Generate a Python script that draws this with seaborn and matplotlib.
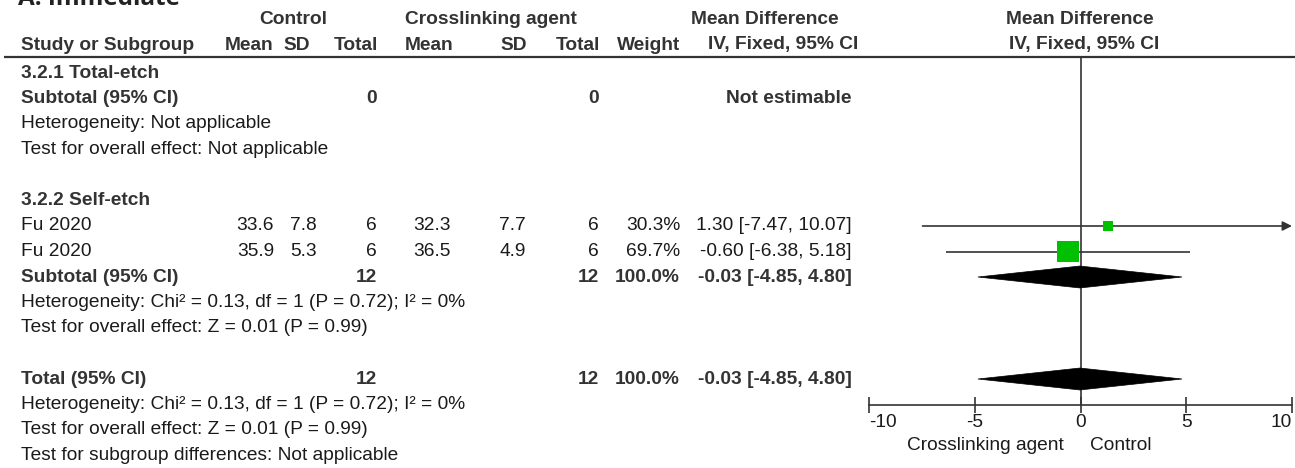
import numpy as np
import pandas as pd
import matplotlib
matplotlib.use("Agg")
import matplotlib.pyplot as plt
from matplotlib.patches import Polygon
import seaborn as sns

# ---- data -------------------------------------------------------------
study = ["Fu 2020", "Fu 2020"]
ctrl_mean = [33.6, 35.9]
ctrl_sd = [7.8, 5.3]
ctrl_n = [6, 6]
xl_mean = [32.3, 36.5]
xl_sd = [7.7, 4.9]
xl_n = [6, 6]
weight = [30.3, 69.7]
md = [1.30, -0.60]
ci_lo = [-7.47, -6.38]
ci_hi = [10.07, 5.18]

subtotal_md = [-0.03, -4.85, 4.80]   # estimate, lower, upper
total_md = [-0.03, -4.85, 4.80]
het_text = "Heterogeneity: Chi² = 0.13, df = 1 (P = 0.72); I² = 0%"
effect_text = "Test for overall effect: Z = 0.01 (P = 0.99)"

ticks = [-10, -5, 0, 5, 10]
favours = ["Crosslinking agent", "Control"]

# ---- style ------------------------------------------------------------
sns.set_theme(style="white")
plt.rcParams["font.family"] = ["Liberation Sans", "DejaVu Sans"]
plt.rcParams["axes.unicode_minus"] = False

W, H = 1295, 468
ROW0, STEP = 73.0, 25.5          # pixel centre of row 0 and row pitch


def row(px):
    """pixel height -> row units"""
    return (px - ROW0) / STEP


INK = "#1a1a1a"
BOLD = "#333333"
LINE = "#333333"
FS = 13.8

fig = plt.figure(figsize=(W / 100, H / 100), dpi=100)
tax = fig.add_axes([0, 0, 1, 1])
tax.set_xlim(0, W)
tax.set_ylim(row(H), row(0))
tax.axis("off")

fax = fig.add_axes([869 / W, 0, 423 / W, 1], sharey=tax)
fax.set_xlim(-10, 10)
fax.patch.set_visible(False)


def txt(x, r, s, ha="left", bold=False, size=FS):
    tax.text(x, r, s, ha=ha, va="center", fontsize=size,
             fontweight="bold" if bold else "normal",
             color=BOLD if bold else INK)


def fmt_ci(v):
    return f"{v[0]:.2f} [{v[1]:.2f}, {v[2]:.2f}]"


# ---- title & header ---------------------------------------------------
tax.text(18, row(5), "A: Immediate", ha="left", va="baseline",
         fontsize=17.5, fontweight="bold", color="#222222",
         family=["Open Sans", "DejaVu Sans"])

h1, h2 = row(20), row(45)
txt(293, h1, "Control", ha="center", bold=True)
txt(491, h1, "Crosslinking agent", ha="center", bold=True)
txt(765, h1, "Mean Difference", ha="center", bold=True)
txt(1080, h1, "Mean Difference", ha="center", bold=True)

txt(21, h2, "Study or Subgroup", bold=True)
txt(273, h2, "Mean", ha="right", bold=True)
txt(283, h2, "SD", bold=True)
txt(378, h2, "Total", ha="right", bold=True)
txt(405, h2, "Mean", bold=True)
txt(527, h2, "SD", ha="right", bold=True)
txt(600, h2, "Total", ha="right", bold=True)
txt(680, h2, "Weight", ha="right", bold=True)
txt(783, h2, "IV, Fixed, 95% CI", ha="center", bold=True)
txt(1084, h2, "IV, Fixed, 95% CI", ha="center", bold=True)

hdr_line = row(57)
tax.plot([4, W], [hdr_line, hdr_line], color=LINE, lw=1.6,
         solid_capstyle="butt")

# ---- subgroup 3.2.1 ---------------------------------------------------
txt(21, 0, "3.2.1 Total-etch", bold=True)
txt(21, 1, "Subtotal (95% CI)", bold=True)
txt(377, 1, "0", ha="right", bold=True)
txt(599, 1, "0", ha="right", bold=True)
txt(852, 1, "Not estimable", ha="right", bold=True)
txt(21, 2, "Heterogeneity: Not applicable")
txt(21, 3, "Test for overall effect: Not applicable")

# ---- subgroup 3.2.2 ---------------------------------------------------
txt(21, 5, "3.2.2 Self-etch", bold=True)
study_rows = [6, 7]
for i, r in enumerate(study_rows):
    txt(21, r, study[i])
    txt(274, r, f"{ctrl_mean[i]:.1f}", ha="right")
    txt(290, r, f"{ctrl_sd[i]:.1f}")
    txt(377, r, f"{ctrl_n[i]}", ha="right")
    txt(413, r, f"{xl_mean[i]:.1f}")
    txt(526, r, f"{xl_sd[i]:.1f}", ha="right")
    txt(599, r, f"{xl_n[i]}", ha="right")
    txt(680, r, f"{weight[i]:.1f}%", ha="right")
    txt(852, r, fmt_ci([md[i], ci_lo[i], ci_hi[i]]), ha="right")

txt(21, 8, "Subtotal (95% CI)", bold=True)
txt(377, 8, f"{sum(ctrl_n)}", ha="right", bold=True)
txt(599, 8, f"{sum(xl_n)}", ha="right", bold=True)
txt(680, 8, f"{sum(weight):.1f}%", ha="right", bold=True)
txt(852, 8, fmt_ci(subtotal_md), ha="right", bold=True)
txt(21, 9, het_text)
txt(21, 10, effect_text)

# ---- overall ----------------------------------------------------------
txt(21, 12, "Total (95% CI)", bold=True)
txt(377, 12, f"{sum(ctrl_n)}", ha="right", bold=True)
txt(599, 12, f"{sum(xl_n)}", ha="right", bold=True)
txt(680, 12, f"{sum(weight):.1f}%", ha="right", bold=True)
txt(852, 12, fmt_ci(total_md), ha="right", bold=True)
txt(21, 13, het_text)
txt(21, 14, effect_text)
txt(21, 15, "Test for subgroup differences: Not applicable")

# ---- forest panel -----------------------------------------------------
AXIS_ROW = 13
fax.vlines(0, hdr_line, AXIS_ROW, color=LINE, lw=1.2)

for i, r in enumerate(study_rows):
    lo, hi = max(ci_lo[i], -10), min(ci_hi[i], 10)
    if ci_hi[i] > 10:
        fax.annotate("", xy=(10, r), xytext=(lo, r),
                     arrowprops=dict(arrowstyle="-|>", color=LINE, lw=1.2,
                                     mutation_scale=14, shrinkA=0, shrinkB=0),
                     annotation_clip=False)
    else:
        fax.hlines(r, lo, hi, color=LINE, lw=1.2)

df = pd.DataFrame({"md": md, "row": study_rows, "weight": weight})
sns.scatterplot(data=df, x="md", y="row", size="weight", sizes=(62, 250),
                marker="s", color="#00c000", linewidth=0, legend=False,
                ax=fax, zorder=3)


def diamond(vals, r, half=0.43):
    est, lo, hi = vals
    fax.add_patch(Polygon([(lo, r), (est, r - half), (hi, r), (est, r + half)],
                          closed=True, facecolor="black", edgecolor="black",
                          lw=0.5, zorder=4))


diamond(subtotal_md, 8)
diamond(total_md, 12)

for side in ["top", "left", "right"]:
    fax.spines[side].set_visible(False)
fax.spines["bottom"].set_position(("data", AXIS_ROW))
fax.spines["bottom"].set_bounds(-10, 10)
fax.spines["bottom"].set_color(LINE)
fax.spines["bottom"].set_linewidth(1.2)
fax.set_xticks(ticks)
fax.set_xticklabels([str(t) for t in ticks])
fax.tick_params(axis="x", direction="inout", length=12, width=1.2,
                colors=LINE, labelcolor=INK, labelsize=FS, pad=1,
                bottom=True)
# end labels sit inside the scale
labels = fax.get_xticklabels()
labels[0].set_horizontalalignment("left")
labels[-1].set_horizontalalignment("right")
fax.tick_params(axis="y", left=False, labelleft=False)
fax.set_xlabel("")
fax.set_ylabel("")
fax.grid(False)

fav_row = row(445)
fax.text(-0.8, fav_row, favours[0], ha="right", va="center",
         fontsize=FS, color=INK)
fax.text(0.47, fav_row, favours[1], ha="left", va="center",
         fontsize=FS, color=INK)

fig.savefig("out.png", dpi=100)
